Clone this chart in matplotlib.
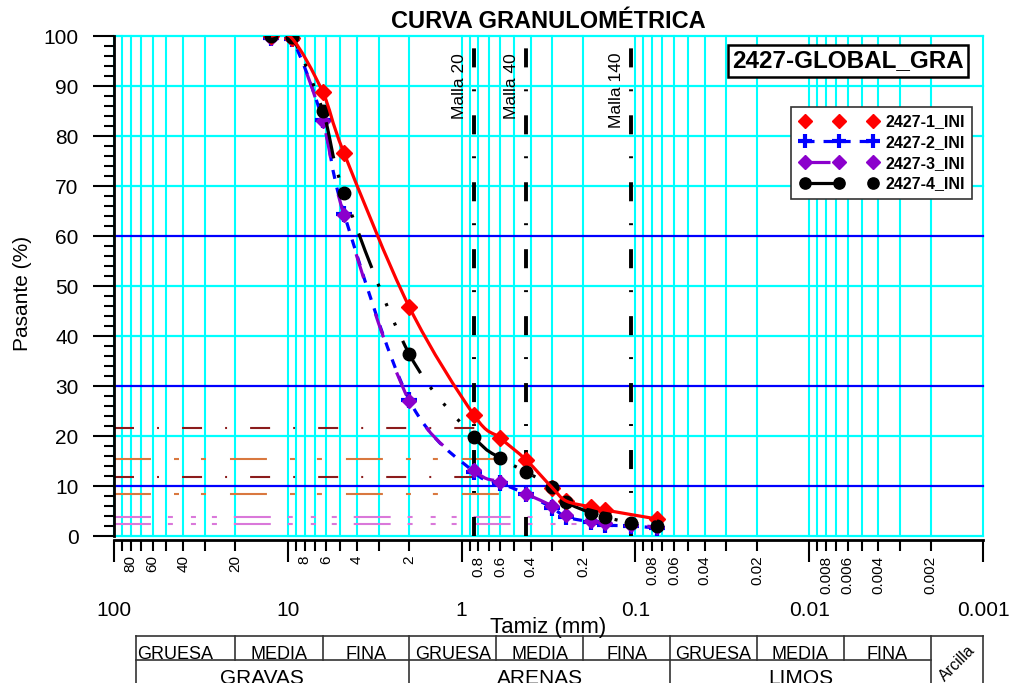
import matplotlib
matplotlib.use('Agg')
import matplotlib.pyplot as plt
import numpy as np
from matplotlib.lines import Line2D
from matplotlib.path import Path
from matplotlib.patches import PathPatch
from matplotlib.ticker import FixedLocator, FuncFormatter, MultipleLocator

plt.rcParams['font.family'] = ['Liberation Sans', 'DejaVu Sans']
plt.rcParams['lines.scale_dashes'] = False

# sieve openings (mm) and percent passing per sample
sieves = [12.5, 9.5, 6.3, 4.75, 2.0, 0.85, 0.6, 0.425, 0.3, 0.25, 0.18, 0.15, 0.106, 0.075]
sieves_1 = [12.5, 9.5, 6.3, 4.75, 2.0, 0.85, 0.6, 0.425, 0.3, 0.25, 0.18, 0.15, 0.075]
pass_1 = [100, 99.6, 88.8, 76.6, 45.8, 24.2, 19.6, 15.2, 9.6, 7.0, 5.8, 5.2, 3.4]
pass_2 = [99.6, 99.4, 83.2, 64.5, 27.2, 12.8, 10.6, 8.4, 5.6, 3.8, 2.8, 2.2, 2.0, 1.6]
pass_3 = [99.6, 99.4, 83.0, 64.2, 27.0, 13.2, 10.8, 8.4, 6.0, 4.2, 3.0, 2.6, 2.2, 1.8]
pass_4 = [100, 99.8, 85.1, 68.6, 36.4, 19.8, 15.6, 12.8, 9.8, 6.8, 4.6, 3.8, 2.6, 2.0]
labels = ['2427-1_INI', '2427-2_INI', '2427-3_INI', '2427-4_INI']

# reference sieves shown as vertical lines
malla_mm = [0.85, 0.425, 0.106]
malla_names = ['Malla 20', 'Malla 40', 'Malla 140']

# dashed guide levels (%) and the size (mm) where each one stops
guide_levels = [21.6, 11.8, 15.4, 8.4, 3.8, 2.4]
guide_ends = [0.75, 0.75, 0.58, 0.58, 0.33, 0.2]

# classification strip under the axis
group_edges = [100, 2.0, 0.063, 0.002]
group_names = ['GRAVAS', 'ARENAS', 'LIMOS']
sub_edges = [100, 20, 6.3, 2.0, 0.63, 0.2, 0.063, 0.02, 0.0063, 0.002]
sub_names = ['GRUESA', 'MEDIA', 'FINA'] * 3
strip_start = 75
strip_end = 0.001

# legend key: how many handle segments get a line
key_span = {'2427-1_INI': 0, '2427-2_INI': 2, '2427-3_INI': 1, '2427-4_INI': 1}


def smooth_path(d, p):
    """Catmull-Rom curve through the points, as cubic Bezier segments in log-x."""
    pts = np.column_stack([np.log10(d), p])
    n = len(pts)
    verts = [pts[0]]
    codes = [Path.MOVETO]
    for i in range(n - 1):
        p0 = pts[max(i - 1, 0)]
        p1 = pts[i]
        p2 = pts[i + 1]
        p3 = pts[min(i + 2, n - 1)]
        verts += [p1 + (p2 - p0) / 6, p2 - (p3 - p1) / 6, p2]
        codes += [Path.CURVE4] * 3
    verts = np.array(verts)
    verts[:, 0] = 10 ** verts[:, 0]
    return Path(verts, codes)


class KeyHandler:
    def legend_artist(self, legend, orig_handle, fontsize, handlebox):
        x0, y0 = handlebox.xdescent, handlebox.ydescent
        w, h = handlebox.width, handlebox.height
        xs = x0 + w * np.array([0.08, 0.5, 0.92])
        y = y0 + h / 2
        tr = handlebox.get_transform()
        span = key_span[orig_handle.get_label()]
        if span:
            ln = Line2D(xs[:span + 1], [y] * (span + 1))
            ln.update_from(orig_handle)
            ln.set_marker('None')
            ln.set_transform(tr)
            handlebox.add_artist(ln)
        mk = Line2D(xs, [y] * 3)
        mk.update_from(orig_handle)
        mk.set_linestyle('none')
        mk.set_transform(tr)
        handlebox.add_artist(mk)
        return mk


fig = plt.figure(figsize=(10.13, 6.83), dpi=100)
ax = fig.add_axes([114 / 1013, 147 / 683, 869 / 1013, 500 / 683])
ax.set_xscale('log')
ax.set_xlim(100, 0.001)
ax.set_ylim(0, 100)

decades = [100, 10, 1, 0.1, 0.01, 0.001]
minor_pos = [m * 10.0 ** k for k in range(-3, 2) for m in range(2, 10)]

# grid
for v in decades + minor_pos:
    ax.axvline(v, color='#00FFFF', lw=1.5, zorder=1, clip_on=False)
for v in range(0, 101, 10):
    c = '#0000FF' if v in (10, 30, 60) else '#00FFFF'
    ax.axhline(v, color=c, lw=1.6, zorder=1.2, clip_on=False)

# guide levels
guide_colors = ['#8B1C1C', '#8B1C1C', '#D9783F', '#D9783F', '#DA78DA', '#DA78DA']
guide_dashes = {'#8B1C1C': (0, (14.4, 16.6, 1.4, 16.6)),
                '#D9783F': (0, (26.6, 16.6, 3.6, 15.8, 3.6, 17.3)),
                '#DA78DA': (0, (26.6, 12.2, 3.6, 13, 3.6, 11.5, 3.6, 12.2))}
for lev, end, c in zip(guide_levels, guide_ends, guide_colors):
    ax.plot([100, end], [lev, lev], color=c, lw=1.5, linestyle=guide_dashes[c],
            dash_capstyle='butt', zorder=2)

# sieve markers
for d, name in zip(malla_mm, malla_names):
    ax.plot([d, d], [0, 100], color='black', lw=2.8,
            linestyle=(0, (13.7, 17.3, 1.4, 15.8)), dash_capstyle='butt', zorder=3)
    ax.annotate(name, xy=(d, 96.6), xytext=(-5, 0), textcoords='offset points',
                rotation=90, ha='right', va='top', fontsize=12.5, zorder=3)

# samples
styles = [
    dict(color='#FF0000', ls='-', marker='D', ms=8, mew=1, z=6),
    dict(color='#0000FF', ls=(0, (6.5, 6.5)), marker='+', ms=11.5, mew=3, z=3.5),
    dict(color='#8B00CC', ls=(0, (18, 27)), marker='D', ms=7.5, mew=1, z=4),
    dict(color='#000000', ls=(0, (26.6, 12.2, 2.2, 13, 2.2, 13, 2.2, 12.2)),
         marker='o', ms=9, mew=1, z=5),
]
series = [(sieves_1, pass_1), (sieves, pass_2), (sieves, pass_3), (sieves, pass_4)]
handles = []
for (d, p), st, lab in zip(series, styles, labels):
    ax.add_patch(PathPatch(smooth_path(d, p), fill=False, ec=st['color'], lw=2.3,
                           linestyle=st['ls'], capstyle='butt', zorder=st['z'] + 0.5))
    mz = 4.6 if lab == labels[0] else st['z']
    ax.plot(d, p, linestyle='none', marker=st['marker'], ms=st['ms'], mew=st['mew'],
            color=st['color'], zorder=mz)
    handles.append(Line2D([], [], color=st['color'], lw=2.3, linestyle=st['ls'],
                          marker=st['marker'], ms=st['ms'] * 0.9, mew=st['mew'],
                          dash_capstyle='butt', label=lab))

leg = ax.legend(handles=handles, handler_map={Line2D: KeyHandler()},
                loc='upper right', bbox_to_anchor=(0.9873, 0.858),
                prop={'weight': 'bold', 'size': 11.5}, handlelength=5.1,
                handletextpad=0.35, labelspacing=0.36, borderpad=0.45,
                borderaxespad=0, fancybox=False, framealpha=1, edgecolor='#333333')
leg.get_frame().set_linewidth(1.2)
leg.set_zorder(8)

ax.text(0.8447, 0.95, '2427-GLOBAL_GRA', transform=ax.transAxes, ha='center',
        va='center', fontsize=17.5, fontweight='bold', zorder=8,
        bbox=dict(boxstyle='square,pad=0.18', fc='white', ec='black', lw=1.8))

# axes, ticks
for s in ('top', 'right'):
    ax.spines[s].set_visible(False)
ax.spines['left'].set_linewidth(2)
ax.spines['bottom'].set_linewidth(2)
ax.spines['bottom'].set_position(('outward', 3))
ax.spines['left'].set_zorder(7)

ax.xaxis.set_major_locator(FixedLocator(decades))
ax.xaxis.set_major_formatter(FuncFormatter(lambda v, _: '%g' % v))
ax.xaxis.set_minor_locator(FixedLocator(minor_pos))


def minor_label(v, _):
    m = round(v / 10 ** np.floor(np.log10(v) + 1e-9))
    return '%g' % v if m in (2, 4, 6, 8) else ''


ax.xaxis.set_minor_formatter(FuncFormatter(minor_label))
ax.tick_params(axis='x', which='major', length=16, width=1.5, pad=28, labelsize=15)
ax.tick_params(axis='x', which='minor', length=8, width=1.5, pad=3, labelsize=11,
               labelrotation=90)
ax.set_yticks(range(0, 101, 10))
ax.yaxis.set_minor_locator(MultipleLocator(2))
ax.tick_params(axis='y', which='major', length=15, width=1.5, pad=10.5, labelsize=15)
ax.tick_params(axis='y', which='minor', length=7, width=1.5)

ax.set_title('CURVA GRANULOMÉTRICA', fontsize=17, fontweight='bold', pad=6)
fig.text(22 / 1013, 1 - 293 / 683, 'Pasante (%)', rotation=90, ha='center',
         va='center', fontsize=15)
fig.text(548 / 1013, 1 - 628 / 683, 'Tamiz (mm)', ha='center', va='center',
         fontsize=16, zorder=5)

# classification strip
tab = fig.add_axes([114 / 1013, 0, 869 / 1013, 47 / 683])
tab.set_xscale('log')
tab.set_xlim(100, 0.001)
tab.set_ylim(0, 2)
tab.axis('off')
lk = dict(color='#333333', lw=1.2, clip_on=False)
tab.plot([strip_start, strip_end], [2, 2], **lk)
tab.plot([strip_start, group_edges[-1]], [1, 1], **lk)
for v in [strip_start] + group_edges[1:] + [strip_end]:
    tab.plot([v, v], [-0.1, 2], **lk)
for v in sub_edges[1:-1]:
    if v not in group_edges:
        tab.plot([v, v], [1, 2], **lk)
for a, b, name in zip(sub_edges[:-1], sub_edges[1:], sub_names):
    tab.text(np.sqrt(a * b), 1.03, name, ha='center', va='baseline', fontsize=13)
for a, b, name in zip(group_edges[:-1], group_edges[1:], group_names):
    tab.text(np.sqrt(a * b), -0.04, name, ha='center', va='baseline', fontsize=15,
             clip_on=False)
tab.text(np.sqrt(group_edges[-1] * strip_end), 0.82, 'Arcilla', rotation=45,
         ha='center', va='center', fontsize=11.5)

fig.savefig('out.png', dpi=100)
